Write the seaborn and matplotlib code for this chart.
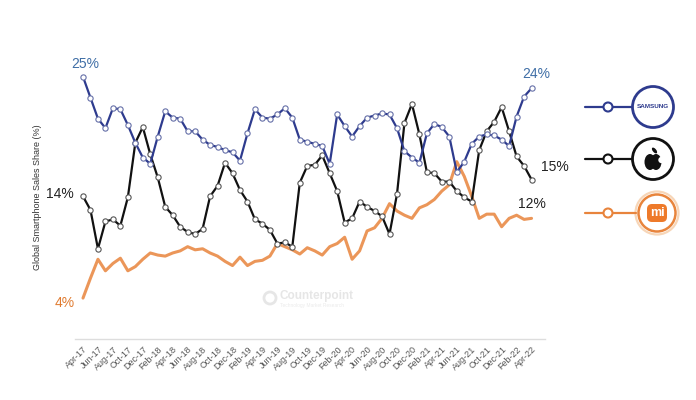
import pandas as pd
import seaborn as sns
import matplotlib.pyplot as plt
from matplotlib.patches import Circle, Ellipse, FancyBboxPatch

# monthly share, Apr-17 .. Apr-22
months = pd.date_range('2017-04-01', periods=61, freq='MS').strftime('%b-%y').tolist()

samsung = [25.0, 23.0, 21.0, 20.1, 22.0, 21.9, 20.4, 18.7, 17.3, 16.7,
           19.3, 21.7, 21.1, 21.0, 19.8, 19.8, 19.0, 18.5, 18.3, 18.0,
           17.8, 17.0, 19.6, 21.9, 21.1, 21.0, 21.4, 22.0, 21.1, 19.0,
           18.8, 18.6, 18.4, 16.7, 21.4, 20.3, 19.3, 20.3, 21.1, 21.3,
           21.5, 21.4, 20.1, 17.9, 17.3, 16.8, 19.6, 20.5, 20.2, 19.3,
           15.9, 16.9, 18.6, 19.3, 19.5, 19.4, 19.0, 18.4, 21.2, 23.1, 23.9]

apple = [13.6, 12.3, 8.6, 11.2, 11.4, 10.8, 13.5, 18.7, 20.2, 17.6,
         15.4, 12.6, 11.8, 10.7, 10.2, 10.0, 10.5, 13.6, 14.6, 16.8,
         15.8, 14.2, 13.1, 11.4, 11.0, 10.4, 9.1, 9.2, 8.8, 14.9,
         16.5, 16.6, 17.5, 15.8, 14.1, 11.1, 11.5, 13.1, 12.6, 12.2,
         11.7, 10.0, 13.8, 20.6, 22.4, 19.5, 15.9, 15.8, 15.0, 15.0,
         14.1, 13.5, 13.1, 18.0, 19.8, 20.7, 22.1, 19.8, 17.4, 16.5, 15.2]

xiaomi = [3.9, 5.8, 7.6, 6.5, 7.2, 7.7, 6.5, 6.9, 7.6, 8.2,
          8.0, 7.9, 8.2, 8.4, 8.8, 8.5, 8.6, 8.2, 7.9, 7.4,
          7.0, 7.8, 7.0, 7.4, 7.5, 7.9, 9.1, 8.8, 8.5, 8.1,
          8.7, 8.4, 8.0, 8.8, 9.1, 9.7, 7.6, 8.4, 10.3, 10.6,
          11.5, 12.9, 12.2, 11.8, 11.5, 12.5, 12.8, 13.3, 14.1, 14.7,
          16.9, 15.5, 13.6, 11.5, 11.9, 11.9, 10.7, 11.5, 11.8, 11.4, 11.5]

NAVY = '#2e3b8e'
BLACK = '#111111'
ORANGE = '#e8843c'

df = pd.DataFrame({'t': range(len(months)), 'Samsung': samsung,
                   'Apple': apple, 'Xiaomi': xiaomi})

sns.set_style('white')
plt.rcParams['font.family'] = ['Liberation Sans', 'DejaVu Sans']

fig = plt.figure(figsize=(6.96, 4), dpi=100)
ax = fig.add_axes([75 / 696, 1 - 339 / 400, 470 / 696, 299 / 400])

sns.lineplot(data=df, x='t', y='Xiaomi', ax=ax, color=ORANGE, lw=2.2, alpha=0.85)
sns.lineplot(data=df, x='t', y='Apple', ax=ax, color=BLACK, lw=1.6,
             marker='o', markersize=3.8, markerfacecolor='white',
             markeredgecolor='#555555', markeredgewidth=0.8)
sns.lineplot(data=df, x='t', y='Samsung', ax=ax, color=NAVY, lw=1.6,
             marker='o', markersize=3.8, markerfacecolor='white',
             markeredgecolor='#6670a8', markeredgewidth=0.8)

ax.set_xlim(-1.07, 61.8)
ax.set_ylim(0, 28.5)
ax.set_yticks([])
ax.set_xticks(range(0, len(months), 2))
ax.set_xticklabels(months[::2], rotation=45, ha='right', rotation_mode='anchor',
                   fontsize=6.5, color='#555555')
ax.tick_params(axis='x', length=0, pad=4)
ax.set_xlabel('')
ax.set_ylabel('')
for s in ['top', 'left', 'right']:
    ax.spines[s].set_visible(False)
ax.spines['bottom'].set_color('#dddddd')
ax.spines['bottom'].set_linewidth(1)

fig.text(38 / 696, 1 - 197 / 400, 'Global Smartphone Sales Share (%)',
         rotation=90, ha='center', va='center', fontsize=6.5, color='#333333')

# end labels
last = len(months) - 1
kw = dict(textcoords='offset pixels', fontsize=10)
ax.annotate('25%', (0, samsung[0]), xytext=(2, 6), ha='center', va='bottom',
            color='#3f6ea6', **kw)
ax.annotate('14%', (0, apple[0]), xytext=(-9, 2), ha='right', va='center',
            color='#222222', **kw)
ax.annotate('4%', (0, xiaomi[0]), xytext=(-8, -5), ha='right', va='center',
            color='#e07b30', **kw)
ax.annotate('24%', (last, samsung[-1]), xytext=(5, 7), ha='center', va='bottom',
            color='#3f6ea6', **kw)
ax.annotate('15%', (last, apple[-1]), xytext=(9, 13), ha='left', va='center',
            color='#222222', **kw)
ax.annotate('12%', (last, xiaomi[-1]), xytext=(0, 14), ha='center', va='center',
            color='#222222', **kw)

# overlay in pixel coordinates for watermark and brand legend
ov = fig.add_axes([0, 0, 1, 1], zorder=5)
ov.set_xlim(0, 696)
ov.set_ylim(400, 0)
ov.axis('off')
ov.patch.set_alpha(0)

ov.add_patch(Circle((270, 298), 6, fill=False, ec='#e6e6e6', lw=2))
ov.text(280, 296, 'Counterpoint', fontsize=8.5, fontweight='bold',
        color='#e6e6e6', va='center')
ov.text(280, 306, 'Technology Market Research', fontsize=3.5,
        color='#ebebeb', va='center')

brands = [('Samsung', NAVY, 107, 653), ('Apple', BLACK, 159, 653),
          ('Xiaomi', ORANGE, 213, 657)]
for name, col, y, cx in brands:
    ov.plot([585, cx - 21], [y, y], color=col, lw=1.6)
    ov.add_patch(Circle((608, y), 4.5, fc='white', ec=col, lw=1.5, zorder=3))
    if name == 'Xiaomi':
        ov.add_patch(Circle((cx, y), 21.5, fc='white', ec='#f7d6b8', lw=1.6))
        ov.add_patch(Circle((cx, y), 18.5, fc='white', ec=col, lw=1.8))
        ov.add_patch(FancyBboxPatch((cx - 10, y - 9), 20, 18,
                                    boxstyle='round,pad=0,rounding_size=5',
                                    fc='#ee7a2a', ec='none'))
        ov.text(cx, y, 'mi', color='white', fontsize=9, fontweight='bold',
                ha='center', va='center')
    else:
        ov.add_patch(Circle((cx, y), 20.5, fc='white', ec=col, lw=2))
    if name == 'Samsung':
        ov.text(cx, y, 'SAMSUNG', color=col, fontsize=4.6, fontweight='bold',
                ha='center', va='center')
    if name == 'Apple':
        ov.add_patch(Ellipse((cx - 3, y + 3), 11, 16, fc=col, ec='none'))
        ov.add_patch(Ellipse((cx + 3, y + 3), 11, 16, fc=col, ec='none'))
        ov.add_patch(Circle((cx + 8.5, y + 1), 3.2, fc='white', ec='none'))
        ov.add_patch(Ellipse((cx + 1.5, y - 8.5), 3.5, 7, angle=-40,
                             fc=col, ec='none'))

fig.savefig('out.png', dpi=100)
